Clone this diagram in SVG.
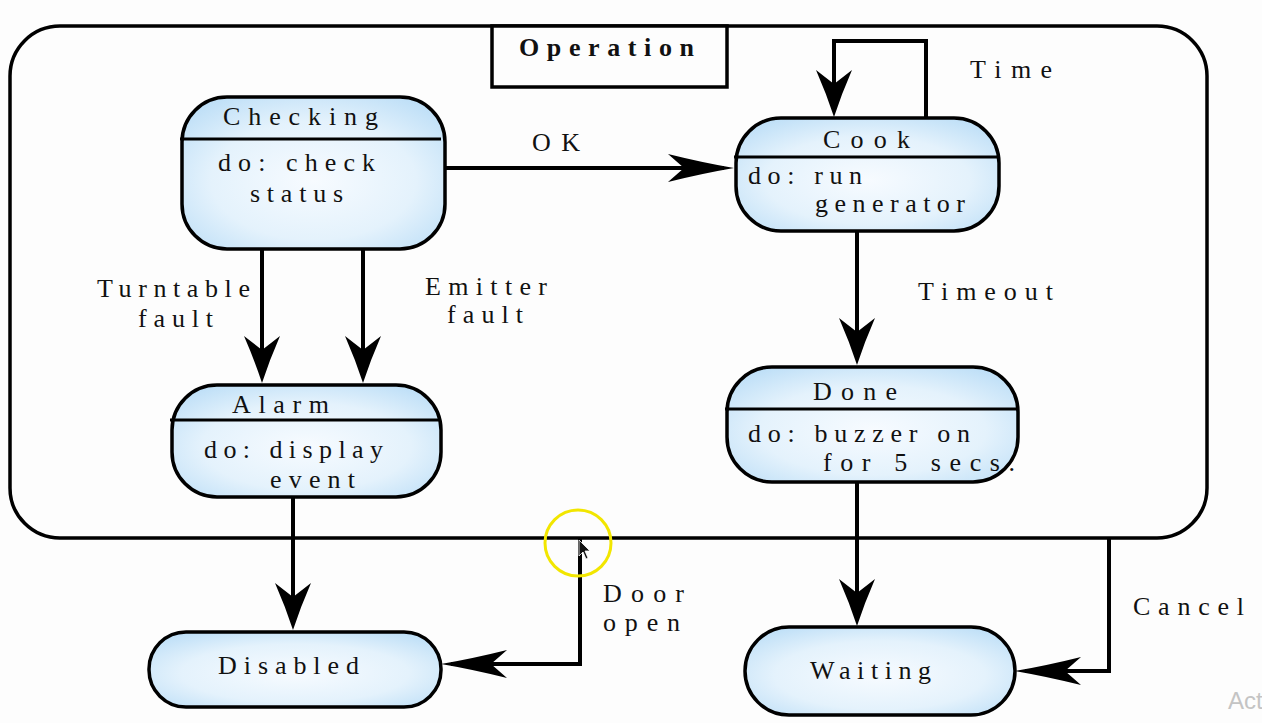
<svg xmlns="http://www.w3.org/2000/svg" width="1262" height="723" viewBox="0 0 1262 723">
<defs>
<radialGradient id="fill" cx="50%" cy="55%" r="65%">
<stop offset="0" stop-color="#f7fbff"/>
<stop offset="0.6" stop-color="#e4f2fc"/>
<stop offset="1" stop-color="#bedff7"/>
</radialGradient>
<marker id="arrV" markerUnits="userSpaceOnUse" orient="auto" refX="-10" refY="0" overflow="visible">
<path d="M0,0 Q-23,-7.5 -47,-18 L-33,0 L-47,18 Q-23,7.5 0,0 Z" fill="#000"/>
</marker>
<marker id="arrH" markerUnits="userSpaceOnUse" orient="auto" refX="-10" refY="0" overflow="visible">
<path d="M0,0 Q-32,-5.5 -66,-14 L-50,0 L-66,14 Q-32,5.5 0,0 Z" fill="#000"/>
</marker>
<style>
.node{fill:url(#fill);stroke:#000;stroke-width:3.5}
.div{stroke:#000;stroke-width:3}
.t{font-family:"Liberation Serif","Times New Roman",serif;font-size:26px;fill:#111}
.c{fill:none;stroke:#000;stroke-width:4}
.v{marker-end:url(#arrV)}
.h{marker-end:url(#arrH)}
</style>
</defs>
<rect width="1262" height="723" fill="#fdfdfd"/>

<g id="operation">
<rect x="10" y="26" width="1197" height="512" rx="50" fill="none" stroke="#000" stroke-width="3.5"/>
<rect x="492" y="26" width="235" height="61" fill="#fdfdfd" stroke="#000" stroke-width="3.5"/>
<text class="t" x="519" y="56" font-weight="bold" textLength="175" lengthAdjust="spacing">Operation</text>
</g>

<g id="connectors">
<path class="c h" d="M445,168 L724,168"/>
<path class="c v" d="M926,118 L926,41 L834,41 L834,107"/>
<path class="c v" d="M857,231 L857,355"/>
<path class="c v" d="M262,249 L262,373"/>
<path class="c v" d="M363,249 L363,373"/>
<path class="c v" d="M293,497 L293,620"/>
<path class="c v" d="M857,482 L857,616"/>
<path class="c h" d="M580,538 L580,664 L451,664"/>
<path class="c h" d="M1109,538 L1109,671 L1025,671"/>
<text class="t" x="532" y="151" textLength="48" lengthAdjust="spacing">OK</text>
<text class="t" x="970" y="78" textLength="82" lengthAdjust="spacing">Time</text>
<text class="t" x="918" y="300" textLength="135" lengthAdjust="spacing">Timeout</text>
<text class="t" x="97" y="297" textLength="153" lengthAdjust="spacing">Turntable</text>
<text class="t" x="138" y="327" textLength="75" lengthAdjust="spacing">fault</text>
<text class="t" x="425" y="295" textLength="122" lengthAdjust="spacing">Emitter</text>
<text class="t" x="447" y="323" textLength="76" lengthAdjust="spacing">fault</text>
<text class="t" x="603" y="602" textLength="81" lengthAdjust="spacing">Door</text>
<text class="t" x="603" y="631" textLength="77" lengthAdjust="spacing">open</text>
<text class="t" x="1133" y="615" textLength="111" lengthAdjust="spacing">Cancel</text>
</g>

<g id="checking">
<rect class="node" x="182" y="97" width="263" height="152" rx="45"/>
<line class="div" x1="180" y1="139" x2="441" y2="139"/>
<text class="t" x="223" y="125" textLength="155" lengthAdjust="spacing">Checking</text>
<text class="t" x="218" y="171" textLength="157" lengthAdjust="spacing">do: check</text>
<text class="t" x="250" y="202" textLength="93" lengthAdjust="spacing">status</text>
</g>

<g id="cook">
<rect class="node" x="736" y="118" width="263" height="113" rx="45"/>
<line class="div" x1="734" y1="157" x2="999" y2="157"/>
<text class="t" x="823" y="148" textLength="87" lengthAdjust="spacing">Cook</text>
<text class="t" x="748" y="184" textLength="114" lengthAdjust="spacing">do: run</text>
<text class="t" x="815" y="212" textLength="150" lengthAdjust="spacing">generator</text>
</g>

<g id="done">
<rect class="node" x="727" y="367" width="291" height="115" rx="45"/>
<line class="div" x1="725" y1="409" x2="1018" y2="409"/>
<text class="t" x="813" y="400" textLength="84" lengthAdjust="spacing">Done</text>
<text class="t" x="748" y="442" textLength="222" lengthAdjust="spacing">do: buzzer on</text>
<text class="t" x="823" y="471" textLength="192" lengthAdjust="spacing">for 5 secs.</text>
</g>

<g id="alarm">
<rect class="node" x="172" y="385" width="269" height="112" rx="45"/>
<line class="div" x1="170" y1="420" x2="441" y2="420"/>
<text class="t" x="232" y="413" textLength="97" lengthAdjust="spacing">Alarm</text>
<text class="t" x="204" y="458" textLength="179" lengthAdjust="spacing">do: display</text>
<text class="t" x="270" y="488" textLength="85" lengthAdjust="spacing">event</text>
</g>

<g id="disabled">
<rect class="node" x="149" y="632" width="292" height="75" rx="37"/>
<text class="t" x="218" y="674" textLength="141" lengthAdjust="spacing">Disabled</text>
</g>

<g id="waiting">
<rect class="node" x="745" y="627" width="270" height="88" rx="44"/>
<text class="t" x="810" y="679" textLength="121" lengthAdjust="spacing">Waiting</text>
</g>

<g id="overlay">
<circle cx="578" cy="543" r="33" fill="none" stroke="#f2e600" stroke-width="3"/>
<path d="M579,540 L579,556 L583,552 L586,559 L588,558 L585,551 L590,551 Z" fill="#111" stroke="#fff" stroke-width="0.8"/>
<text x="1228" y="709" font-family="'Liberation Sans',Arial,sans-serif" font-size="24" fill="#c4c4c4">Act</text>
</g>
</svg>
